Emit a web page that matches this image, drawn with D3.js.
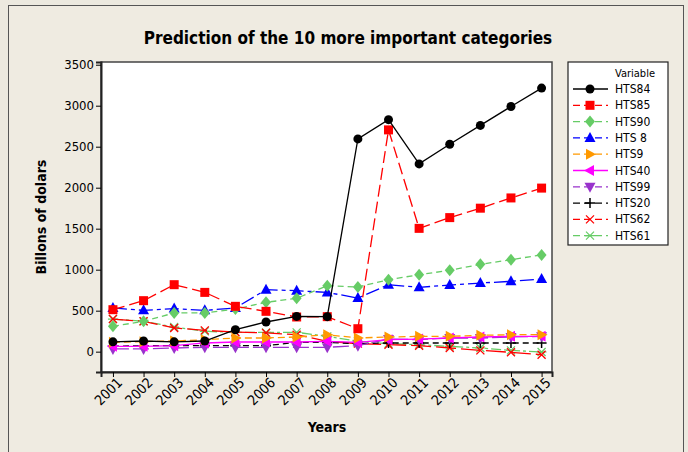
<!DOCTYPE html>
<html>
<head>
<meta charset="utf-8">
<script src="https://cdn.jsdelivr.net/npm/d3@7"></script>
<style>
  body { margin: 0; background: #ece9df; }
  text { font-family: "DejaVu Sans Condensed", "DejaVu Sans", sans-serif; fill: #000; }
</style>
</head>
<body>
<div id="chart"></div>
<script>
const years = [2001, 2002, 2003, 2004, 2005, 2006, 2007, 2008, 2009, 2010, 2011, 2012, 2013, 2014, 2015];
const yTicks = [0, 500, 1000, 1500, 2000, 2500, 3000, 3500];

const hts84 = [120, 130, 120, 130, 268, 362, 430, 427, 2595, 2830, 2290, 2530, 2760, 2990, 3215];
const hts85 = [512, 622, 817, 723, 553, 492, 423, 427, 280, 2705, 1504, 1635, 1750, 1875, 1995];
const hts90 = [309, 370, 472, 472, 520, 602, 650, 805, 789, 878, 939, 992, 1065, 1122, 1180];
const hts8 = [533, 504, 525, 504, 533, 756, 744, 723, 654, 817, 785, 812, 837, 858, 886];
const hts9 = [114, 122, 130, 146, 167, 167, 179, 207, 167, 179, 187, 187, 199, 207, 207];
const hts40 = [65, 65, 73, 106, 118, 118, 118, 126, 114, 146, 154, 167, 179, 187, 187];
const hts99 = [33, 33, 45, 53, 53, 53, 53, 53, 73, 154, 146, 167, 167, 179, 187];
const hts20 = [65, 73, 73, 73, 73, 73, 114, 114, 98, 106, 106, 106, 106, 106, 106];
const hts62 = [398, 370, 289, 260, 240, 228, 207, 126, 98, 85, 73, 45, 16, -8, -37];
const hts61 = [398, 370, 301, 248, 236, 236, 236, 187, 126, 98, 85, 65, 45, 16, -4];

const series = [
  {name: "HTS84", values: hts84, color: "#000000", dash: null, symbol: "circle"},
  {name: "HTS85", values: hts85, color: "#ff0000", dash: "12,5", symbol: "square"},
  {name: "HTS90", values: hts90, color: "#66cc66", dash: "6,4", symbol: "diamond"},
  {name: "HTS 8", values: hts8, color: "#0000ff", dash: "14,4,4,4", symbol: "up"},
  {name: "HTS9", values: hts9, color: "#ff9900", dash: "7,4", symbol: "right"},
  {name: "HTS40", values: hts40, color: "#ff00ff", dash: null, symbol: "left"},
  {name: "HTS99", values: hts99, color: "#9933cc", dash: "16,4", symbol: "down"},
  {name: "HTS20", values: hts20, color: "#000000", dash: "6,4", symbol: "plus"},
  {name: "HTS62", values: hts62, color: "#ff0000", dash: "20,5", symbol: "x"},
  {name: "HTS61", values: hts61, color: "#66cc66", dash: "10,3,3,3", symbol: "star"}
];

const W = 688, H = 452;
const svg = d3.select("#chart").append("svg").attr("width", W).attr("height", H);

svg.append("rect").attr("x", 0).attr("y", 0).attr("width", W).attr("height", H).attr("fill", "#ece9df");
svg.append("rect").attr("x", 8.5).attr("y", 5.5).attr("width", 675).attr("height", 460)
  .attr("fill", "#efebe1").attr("stroke", "#555").attr("stroke-width", 1);

const plot = {left: 101, top: 62, right: 552, bottom: 372};

const x = d3.scaleLinear().domain([2000.61, 2015.34]).range([plot.left, plot.right]);
const y = d3.scaleLinear().domain([-248, 3533]).range([plot.bottom, plot.top]);

svg.append("rect").attr("x", plot.left).attr("y", plot.top)
  .attr("width", plot.right - plot.left).attr("height", plot.bottom - plot.top)
  .attr("fill", "#fff").attr("stroke", "#444").attr("stroke-width", 1.5);

// AXES
const yAxis = svg.append("g").attr("transform", "translate(" + plot.left + ",0)")
  .call(d3.axisLeft(y).tickValues(yTicks).tickSize(5).tickPadding(2).tickFormat(d3.format("d")));
yAxis.select(".domain").attr("stroke", "#222").attr("stroke-width", 2);
yAxis.selectAll(".tick line").attr("stroke", "#000");
yAxis.selectAll("text").style("font-size", "13px").style("font-family", "DejaVu Sans Condensed, DejaVu Sans");

const xAxis = svg.append("g").attr("transform", "translate(0," + plot.bottom + ")")
  .call(d3.axisBottom(x).tickValues(years).tickSize(5).tickFormat(d3.format("d")));
xAxis.select(".domain").attr("stroke", "#222").attr("stroke-width", 2);
xAxis.selectAll(".tick line").attr("stroke", "#000");
xAxis.selectAll("text")
  .style("font-size", "14px").style("font-family", "DejaVu Sans Condensed, DejaVu Sans")
  .style("text-anchor", "end")
  .attr("dx", "-0.1em").attr("dy", "0.5em")
  .attr("transform", "rotate(-45)");

// TITLES
svg.append("text").attr("x", 348).attr("y", 44).attr("text-anchor", "middle")
  .style("font-size", "17px").style("font-weight", "bold").text("Prediction of the 10 more important categories");
svg.append("text").attr("x", 327).attr("y", 432).attr("text-anchor", "middle")
  .style("font-size", "14px").style("font-weight", "bold").text("Years");
svg.append("text").attr("transform", "translate(46,217) rotate(-90)").attr("text-anchor", "middle")
  .style("font-size", "14px").style("font-weight", "bold").text("Billons of dolars");

// SYMBOLS
function drawSymbol(g, kind, color) {
  const s = 4.5;
  if (kind === "circle") g.append("circle").attr("r", s).attr("fill", color);
  else if (kind === "square") g.append("rect").attr("x", -s).attr("y", -s).attr("width", 2 * s).attr("height", 2 * s).attr("fill", color);
  else if (kind === "diamond") g.append("path").attr("d", "M0,-6L5,0L0,6L-5,0Z").attr("fill", color);
  else if (kind === "up") g.append("path").attr("d", "M0,-6L5.5,4L-5.5,4Z").attr("fill", color);
  else if (kind === "down") g.append("path").attr("d", "M0,6L5.5,-4L-5.5,-4Z").attr("fill", color);
  else if (kind === "right") g.append("path").attr("d", "M6,0L-4,-5.5L-4,5.5Z").attr("fill", color);
  else if (kind === "left") g.append("path").attr("d", "M-6,0L4,-5.5L4,5.5Z").attr("fill", color);
  else if (kind === "plus") g.append("path").attr("d", "M-5,0H5M0,-5V5").attr("stroke", color).attr("stroke-width", 1.5);
  else if (kind === "x") g.append("path").attr("d", "M-4,-4L4,4M-4,4L4,-4").attr("stroke", color).attr("stroke-width", 1.3);
  else if (kind === "star") g.append("path").attr("d", "M-4,-4L4,4M-4,4L4,-4M-5,0H5").attr("stroke", color).attr("stroke-width", 1.2);
}

const line = d3.line().x((d, i) => x(years[i])).y(d => y(d));

const gSeries = svg.append("g").attr("class", "series");
series.slice().reverse().forEach(s => {
  const g = gSeries.append("g");
  g.append("path").datum(s.values).attr("d", line)
    .attr("fill", "none").attr("stroke", s.color).attr("stroke-width", 1.3)
    .attr("stroke-dasharray", s.dash);
  g.selectAll(".pt").data(s.values).enter().append("g")
    .attr("class", "pt")
    .attr("transform", (d, i) => "translate(" + x(years[i]) + "," + y(d) + ")")
    .each(function () { drawSymbol(d3.select(this), s.symbol, s.color); });
});

// LEGEND
const leg = svg.append("g").attr("transform", "translate(568,62)");
leg.append("rect").attr("width", 100).attr("height", 183).attr("fill", "#fff").attr("stroke", "#222").attr("stroke-width", 1.2);
leg.append("text").attr("x", 47).attr("y", 15).style("font-size", "11px").text("Variable");
const items = leg.selectAll(".item").data(series).enter().append("g")
  .attr("class", "item")
  .attr("transform", (d, i) => "translate(0," + (27 + i * 16.3) + ")");
items.append("line").attr("x1", 5).attr("x2", 40)
  .attr("stroke", d => d.color).attr("stroke-width", 1.3)
  .attr("stroke-dasharray", d => d.dash ? "7,4" : null);
items.each(function (d) {
  const g = d3.select(this).append("g").attr("transform", "translate(22,0)");
  drawSymbol(g, d.symbol, d.color);
});
items.append("text").attr("x", 47).attr("y", 4).style("font-size", "12px").text(d => d.name);
</script>
</body>
</html>
